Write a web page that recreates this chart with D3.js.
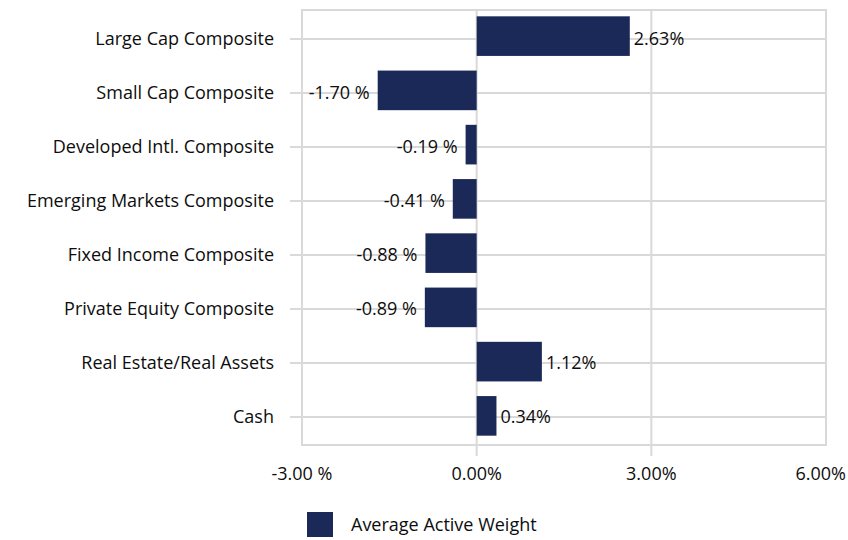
<!DOCTYPE html>
<html>
<head>
<meta charset="utf-8">
<script src="https://cdn.jsdelivr.net/npm/d3@7"></script>
<style>
  html, body { margin: 0; padding: 0; background: #ffffff; }
  svg { display: block; }
  text { font-family: "Open Sans", sans-serif; fill: #0d0d0d; }
</style>
</head>
<body>
<svg id="chart" width="848" height="540"></svg>
<script>
const categories = [
  "Large Cap Composite",
  "Small Cap Composite",
  "Developed Intl. Composite",
  "Emerging Markets Composite",
  "Fixed Income Composite",
  "Private Equity Composite",
  "Real Estate/Real Assets",
  "Cash"
];
const values = [2.63, -1.70, -0.19, -0.41, -0.88, -0.89, 1.12, 0.34];
const xTickValues = [-3, 0, 3, 6];
const seriesName = "Average Active Weight";

const W = 848, H = 540;
const plot = { left: 302, right: 826, top: 10, bottom: 445 };
const barColor = "#1b2958";
const gridColor = "#d9d9d9";
const fs = 18;

const svg = d3.select("#chart");

const x = d3.scaleLinear().domain([-3, 6]).range([plot.left, plot.right]);
const yBand = d3.scaleBand().domain(categories).range([9, 443])
  .paddingInner(0.27).paddingOuter(0.135);
const yPoint = d3.scalePoint().domain(categories).range([12, 444]).padding(0.5);

const fmt = v => v < 0 ? "-" + Math.abs(v).toFixed(2) + " %" : v.toFixed(2) + "%";

// horizontal gridlines (with tick stubs to the left)
svg.append("g").selectAll("line").data(categories).join("line")
  .attr("x1", plot.left - 12).attr("x2", plot.right)
  .attr("y1", d => yPoint(d)).attr("y2", d => yPoint(d))
  .attr("stroke", gridColor).attr("stroke-width", 2);

// vertical gridlines at interior ticks (with stubs below)
svg.append("g").selectAll("line").data(xTickValues.filter(v => v > -3 && v < 6)).join("line")
  .attr("x1", d => x(d)).attr("x2", d => x(d))
  .attr("y1", plot.top).attr("y2", plot.bottom + 11)
  .attr("stroke", gridColor).attr("stroke-width", 2);

// plot border
svg.append("rect")
  .attr("x", plot.left).attr("y", plot.top)
  .attr("width", plot.right - plot.left).attr("height", plot.bottom - plot.top)
  .attr("fill", "none").attr("stroke", gridColor).attr("stroke-width", 2);

// bars
svg.append("g").selectAll("rect").data(categories).join("rect")
  .attr("x", (d, i) => x(Math.min(0, values[i])))
  .attr("width", (d, i) => Math.abs(x(values[i]) - x(0)))
  .attr("y", d => yBand(d))
  .attr("height", yBand.bandwidth())
  .attr("fill", barColor);

// data labels
svg.append("g").selectAll("text").data(categories).join("text")
  .attr("x", (d, i) => values[i] < 0 ? x(values[i]) - 8 : x(values[i]) + 4)
  .attr("y", d => yPoint(d))
  .attr("dy", "0.35em")
  .attr("text-anchor", (d, i) => values[i] < 0 ? "end" : "start")
  .attr("font-size", fs)
  .text((d, i) => fmt(values[i]));

// category labels
svg.append("g").selectAll("text").data(categories).join("text")
  .attr("x", 274)
  .attr("y", d => yPoint(d))
  .attr("dy", "0.35em")
  .attr("text-anchor", "end")
  .attr("font-size", fs)
  .text(d => d);

// x tick labels (last one kept inside the canvas)
svg.append("g").selectAll("text").data(xTickValues).join("text")
  .attr("x", (d, i) => i === xTickValues.length - 1 ? W - 2 : x(d))
  .attr("y", 480)
  .attr("text-anchor", (d, i) => i === xTickValues.length - 1 ? "end" : "middle")
  .attr("font-size", fs)
  .text(d => fmt(d));

// legend
const lg = svg.append("g");
lg.append("rect").attr("x", 307).attr("y", 512).attr("width", 26).attr("height", 25).attr("fill", barColor);
lg.append("text").attr("x", 351).attr("y", 525).attr("dy", "0.35em")
  .attr("font-size", fs).text(seriesName);
</script>
</body>
</html>
